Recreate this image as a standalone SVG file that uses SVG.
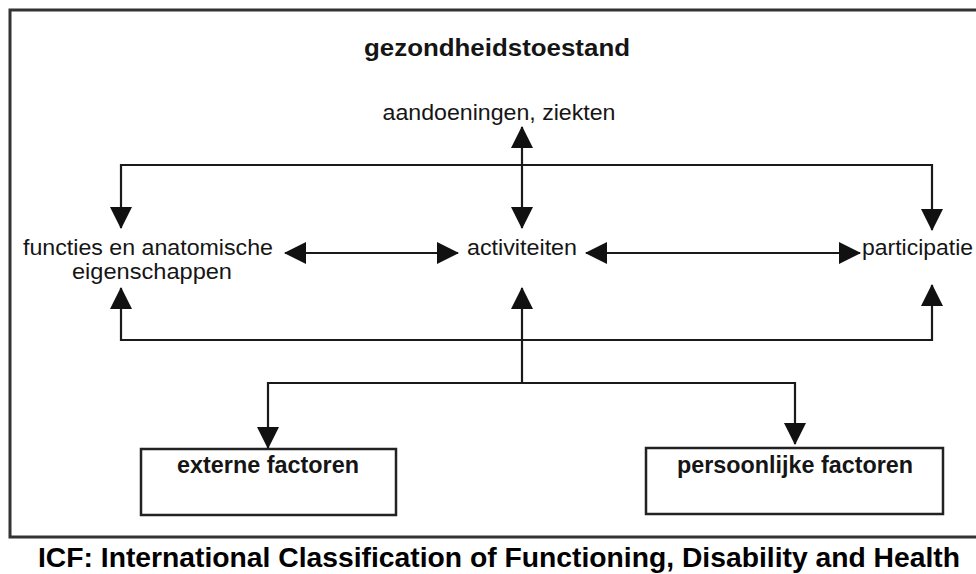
<svg xmlns="http://www.w3.org/2000/svg" width="976" height="574" viewBox="0 0 976 574">
<style>
.frame{fill:none;stroke:#333;stroke-width:3}
.box{fill:#fff;stroke:#222;stroke-width:2.5}
.ln{fill:none;stroke:#1a1a1a;stroke-width:2.2}
.t{font-family:"Liberation Sans",Arial,sans-serif;fill:#151515;font-size:22px}
.b{font-family:"Liberation Sans",Arial,sans-serif;fill:#151515;font-size:23px;font-weight:bold}
.cap{font-family:"Liberation Sans",Arial,sans-serif;fill:#000;font-size:28px;font-weight:bold}
</style>
<defs>
<marker id="ah" viewBox="0 0 22 22" markerWidth="22" markerHeight="22" refX="21" refY="11" markerUnits="userSpaceOnUse" orient="auto-start-reverse">
<path d="M0,0 L22,11 L0,22 z" fill="#111"/>
</marker>
</defs>
<rect width="976" height="574" fill="#fff"/>
<rect class="frame" x="10" y="10" width="980" height="527"/>
<g id="title"><text class="b" x="497" y="56" text-anchor="middle" textLength="266" lengthAdjust="spacingAndGlyphs">gezondheidstoestand</text></g>
<g id="aandoeningen"><text class="t" x="499" y="120" text-anchor="middle" textLength="233" lengthAdjust="spacingAndGlyphs">aandoeningen, ziekten</text></g>
<g id="functies">
<text class="t" x="148" y="255" text-anchor="middle" textLength="250" lengthAdjust="spacingAndGlyphs">functies en anatomische</text>
<text class="t" x="152" y="279" text-anchor="middle" textLength="160" lengthAdjust="spacingAndGlyphs">eigenschappen</text>
</g>
<g id="activiteiten"><text class="t" x="522" y="255" text-anchor="middle" textLength="110" lengthAdjust="spacingAndGlyphs">activiteiten</text></g>
<g id="participatie"><text class="t" x="862" y="255" textLength="111" lengthAdjust="spacingAndGlyphs">participatie</text></g>
<g id="externe">
<rect class="box" x="141" y="449" width="255" height="66"/>
<text class="b" x="268" y="473" text-anchor="middle" textLength="182" lengthAdjust="spacingAndGlyphs">externe factoren</text>
</g>
<g id="persoonlijke">
<rect class="box" x="646" y="448" width="297" height="66"/>
<text class="b" x="795" y="473" text-anchor="middle" textLength="236" lengthAdjust="spacingAndGlyphs">persoonlijke factoren</text>
</g>
<g id="connectors">
<polyline class="ln" points="121,228 121,165 932,165 932,230" marker-start="url(#ah)" marker-end="url(#ah)"/>
<line class="ln" x1="522" y1="127" x2="522" y2="228" marker-start="url(#ah)" marker-end="url(#ah)"/>
<line class="ln" x1="285" y1="253" x2="458" y2="253" marker-start="url(#ah)" marker-end="url(#ah)"/>
<line class="ln" x1="586" y1="253" x2="860" y2="253" marker-start="url(#ah)" marker-end="url(#ah)"/>
<polyline class="ln" points="121,288 121,340 932,340 932,285" marker-start="url(#ah)" marker-end="url(#ah)"/>
<line class="ln" x1="522" y1="383" x2="522" y2="288" marker-end="url(#ah)"/>
<polyline class="ln" points="268,448 268,383 795,383 795,444" marker-start="url(#ah)" marker-end="url(#ah)"/>
</g>
<g id="caption"><text class="cap" x="499" y="567" text-anchor="middle" textLength="922" lengthAdjust="spacingAndGlyphs">ICF: International Classification of Functioning, Disability and Health</text></g>
</svg>
